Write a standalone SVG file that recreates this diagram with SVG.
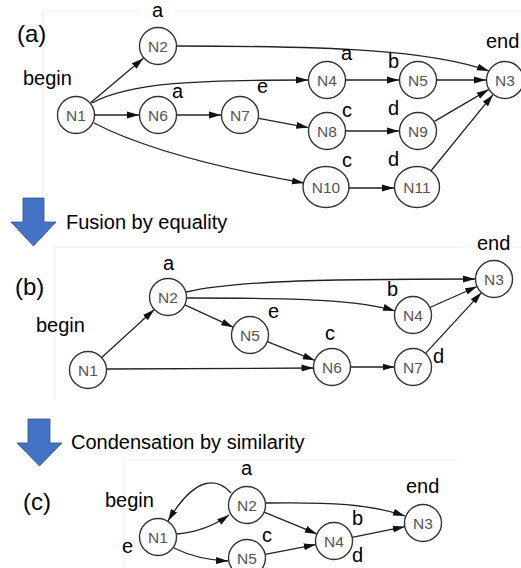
<svg xmlns="http://www.w3.org/2000/svg" width="521" height="568" viewBox="0 0 521 568">
<defs>
<marker id="ah" markerWidth="12" markerHeight="8" refX="12" refY="4" orient="auto" markerUnits="userSpaceOnUse"><path d="M0,0.5 L12,4 L0,7.5 z" fill="#111"/></marker>
<style>
.n circle,.n ellipse{fill:#fff;stroke:#333;stroke-width:1.4}
.n text{font-family:"Liberation Sans",Arial,sans-serif;font-size:15.5px;fill:#555;text-anchor:middle;dominant-baseline:central}
.e path{fill:none;stroke:#222;stroke-width:1.3;marker-end:url(#ah)}
.l{font-family:"Liberation Sans",Arial,sans-serif;font-size:20px;fill:#000}
.p{font-family:"Liberation Sans",Arial,sans-serif;font-size:24px;fill:#000}
.fr{stroke:#eeeeee;stroke-width:1;fill:none}
.ba{fill:#4472C4;stroke:#2F528F;stroke-width:0.8}
</style>
</defs>
<rect width="521" height="568" fill="#fff"/>
<!-- faint panel frames -->
<path class="fr" d="M43,193 L43,11 L140,11 M176,11 L521,11"/>
<path class="fr" d="M55,400 L55,247 L521,247"/>
<path class="fr" d="M124,568 L124,460 L457,460"/>

<!-- blue arrows -->
<path class="ba" d="M23,198 L44,198 L44,222 L56,222 L33.5,246 L11,222 L23,222 z"/>
<path class="ba" d="M28,419 L50,419 L50,443 L62,443 L39.5,466 L17,443 L28,443 z"/>
<text class="l" x="66" y="229">Fusion by equality</text>
<text class="l" x="71" y="449">Condensation by similarity</text>

<!-- panel labels -->
<text class="p" x="17" y="42">(a)</text>
<text class="p" x="15" y="295">(b)</text>
<text class="p" x="23" y="510">(c)</text>

<!-- connectors -->
<g id="edges" class="e">
<!-- (a) -->
<path d="M90.6,102.7 L143.4,58.3"/>
<path d="M177,46 C330,46 430,50 489,71"/>
<path d="M92,103 C130,82 200,80 308,80"/>
<path d="M95,115 L139,115"/>
<path d="M177,115 L221,115"/>
<path d="M258.7,118.4 L308.3,127.6"/>
<path d="M346,131 L399,131"/>
<path d="M346,80 L399,80"/>
<path d="M437,80 L486,80"/>
<path d="M434.4,121.4 L488.6,89.6"/>
<path d="M94,123 C150,152 230,170 304,183"/>
<path d="M349,188 L394,188"/>
<path d="M430,172 L493,94.7"/>
<!-- (b) -->
<path d="M101.7,357.5 L154.3,309.5"/>
<path d="M186,292 C230,282 300,279 475,279"/>
<path d="M187,298 C300,298 360,300 395,311"/>
<path d="M184.8,304.8 L233.2,327.2"/>
<path d="M267.2,341.7 L314.8,360.3"/>
<path d="M106.5,369 L313.5,368"/>
<path d="M350.5,367 L394.5,367"/>
<path d="M429.9,307.5 L477.1,286.5"/>
<path d="M425.5,353.4 L481.5,292.6"/>
<!-- (c) -->
<path d="M231,493 C218,478 196,474 168,521"/>
<path d="M177,534 C200,532 215,525 229,515"/>
<path d="M174,548 C190,556 205,560 228,561"/>
<path d="M266,503 C330,502 370,504 405,516"/>
<path d="M264.1,512.1 L316.9,533.9"/>
<path d="M265.2,554.4 L315.8,544.6"/>
<path d="M352.1,537.3 L404.9,526.7"/>
</g>

<!-- (a) nodes -->
<g id="a-N1" class="n"><circle cx="76" cy="115" r="18.5"/><text x="76" y="115">N1</text></g>
<g id="a-N2" class="n"><circle cx="158" cy="46" r="18.5"/><text x="158" y="46">N2</text></g>
<g id="a-N3" class="n"><circle cx="505" cy="80" r="18.5"/><text x="505" y="80">N3</text></g>
<g id="a-N4" class="n"><circle cx="327" cy="80" r="18.5"/><text x="327" y="80">N4</text></g>
<g id="a-N5" class="n"><circle cx="418" cy="80" r="18.5"/><text x="418" y="80">N5</text></g>
<g id="a-N6" class="n"><circle cx="158" cy="115" r="18.5"/><text x="158" y="115">N6</text></g>
<g id="a-N7" class="n"><circle cx="240" cy="115" r="18.5"/><text x="240" y="115">N7</text></g>
<g id="a-N8" class="n"><circle cx="327" cy="131" r="18.5"/><text x="327" y="131">N8</text></g>
<g id="a-N9" class="n"><circle cx="418" cy="131" r="18.5"/><text x="418" y="131">N9</text></g>
<g id="a-N10" class="n"><ellipse cx="326" cy="187" rx="23" ry="20.5"/><text x="326" y="187">N10</text></g>
<g id="a-N11" class="n"><ellipse cx="417" cy="187" rx="22.5" ry="20.5"/><text x="417" y="187">N11</text></g>

<!-- (b) nodes -->
<g id="b-N1" class="n"><circle cx="88" cy="370" r="18.5"/><text x="88" y="370">N1</text></g>
<g id="b-N2" class="n"><circle cx="168" cy="297" r="18.5"/><text x="168" y="297">N2</text></g>
<g id="b-N3" class="n"><circle cx="494" cy="279" r="18.5"/><text x="494" y="279">N3</text></g>
<g id="b-N4" class="n"><circle cx="413" cy="315" r="18.5"/><text x="413" y="315">N4</text></g>
<g id="b-N5" class="n"><circle cx="250" cy="335" r="18.5"/><text x="250" y="335">N5</text></g>
<g id="b-N6" class="n"><circle cx="332" cy="367" r="18.5"/><text x="332" y="367">N6</text></g>
<g id="b-N7" class="n"><circle cx="413" cy="367" r="18.5"/><text x="413" y="367">N7</text></g>

<!-- (c) nodes -->
<g id="c-N1" class="n"><circle cx="158" cy="537" r="18.5"/><text x="158" y="537">N1</text></g>
<g id="c-N2" class="n"><circle cx="247" cy="505" r="18.5"/><text x="247" y="505">N2</text></g>
<g id="c-N3" class="n"><circle cx="423" cy="523" r="18.5"/><text x="423" y="523">N3</text></g>
<g id="c-N4" class="n"><circle cx="334" cy="541" r="18.5"/><text x="334" y="541">N4</text></g>
<g id="c-N5" class="n"><circle cx="247" cy="558" r="18.5"/><text x="247" y="558">N5</text></g>

<!-- (a) labels -->
<g id="labels-a">
<text class="l" x="152" y="17">a</text>
<text class="l" x="23" y="85">begin</text>
<text class="l" x="172" y="98">a</text>
<text class="l" x="257" y="93">e</text>
<text class="l" x="341" y="60">a</text>
<text class="l" x="388" y="68">b</text>
<text class="l" x="486" y="48">end</text>
<text class="l" x="342" y="117">c</text>
<text class="l" x="388" y="115">d</text>
<text class="l" x="342" y="167">c</text>
<text class="l" x="388" y="166">d</text>
</g>
<!-- (b) labels -->
<g id="labels-b">
<text class="l" x="163" y="270">a</text>
<text class="l" x="36" y="332">begin</text>
<text class="l" x="268" y="318">e</text>
<text class="l" x="325" y="340">c</text>
<text class="l" x="387" y="296">b</text>
<text class="l" x="433" y="363">d</text>
<text class="l" x="477" y="250">end</text>
</g>
<!-- (c) labels -->
<g id="labels-c">
<text class="l" x="241" y="475">a</text>
<text class="l" x="105" y="507">begin</text>
<text class="l" x="122" y="553">e</text>
<text class="l" x="262" y="542">c</text>
<text class="l" x="352" y="525">b</text>
<text class="l" x="352" y="562">d</text>
<text class="l" x="406" y="493">end</text>
</g>
</svg>
